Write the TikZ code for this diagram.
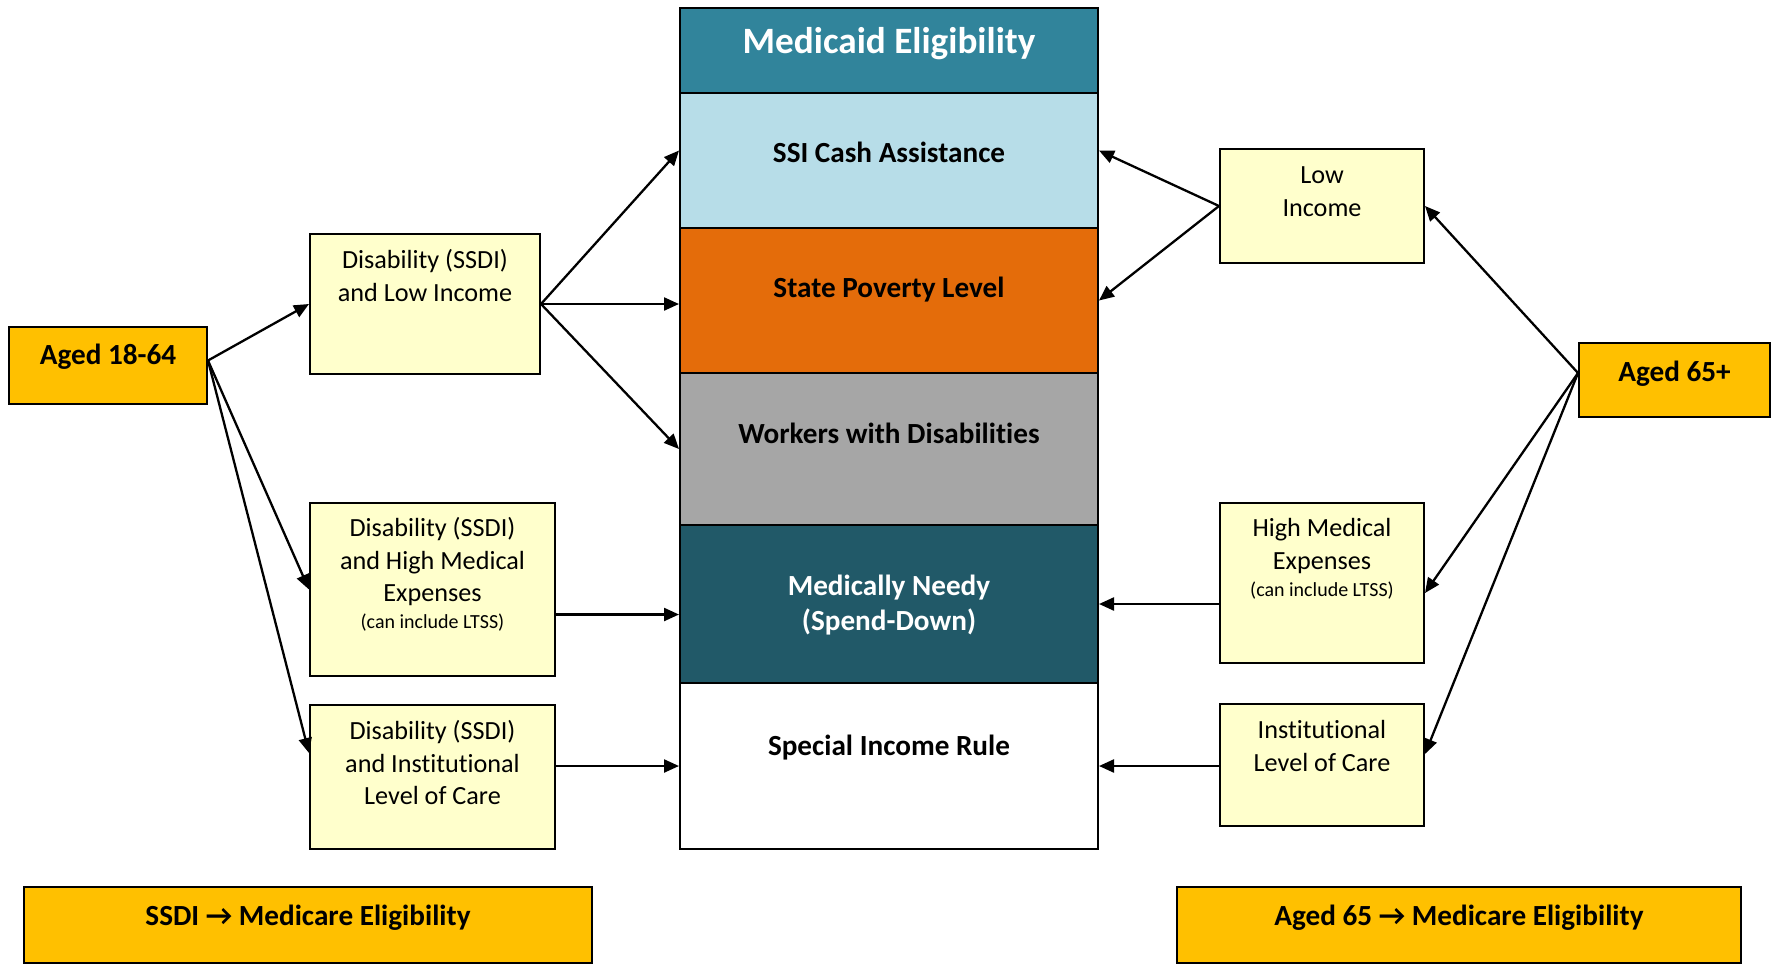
\documentclass[tikz,border=0pt]{standalone}
\usepackage{fontspec}
\setmainfont{Carlito}[Ligatures=NoCommon]
\usetikzlibrary{arrows.meta}

\definecolor{headteal}{HTML}{31849B}
\definecolor{ssiblue}{HTML}{B7DDE8}
\definecolor{povorange}{HTML}{E46C0A}
\definecolor{workgray}{HTML}{A6A6A6}
\definecolor{needteal}{HTML}{215968}
\definecolor{crityellow}{HTML}{FFFFCC}
\definecolor{agegold}{HTML}{FFC000}

% box of fixed size, text hung from the top edge
\newcommand{\boxtxt}[4]{\parbox[c][#2][t]{#1}{\centering\vspace*{#3}\strut#4}}
\newcommand{\txtfont}{\fontsize{13.1}{16.25}\selectfont}
\newcommand{\smfont}{\fontsize{10}{12}\selectfont}
\newcommand{\lblfont}{\fontsize{14.6}{17.5}\selectfont\bfseries}
\newcommand{\headfont}{\fontsize{18.6}{22.5}\selectfont\bfseries}

\begin{document}
\begin{tikzpicture}[x=0.5pt, y=-0.5pt,
  tier/.style={draw, line width=1pt, inner sep=0pt, font=\lblfont},
  crit/.style={draw, fill=crityellow, line width=1pt, inner sep=0pt, font=\txtfont},
  agebox/.style={draw, fill=agegold, line width=1pt, inner sep=0pt, font=\lblfont},
  arr/.style={-{Triangle[length=7.5pt,width=6.5pt]}, line width=1.15pt}]
\useasboundingbox (0,0) rectangle (1773,966);

% eligibility groups, top to bottom
\node[tier, fill=headteal, text=white, font=\headfont] (head) at (889,50.5)
  {\boxtxt{209pt}{42.5pt}{7pt}{Medicaid Eligibility}};
\node[tier, fill=ssiblue] (ssi) at (889,160.5)
  {\boxtxt{209pt}{67.5pt}{22.5pt}{SSI Cash Assistance}};
\node[tier, fill=povorange] (spl) at (889,300.5)
  {\boxtxt{209pt}{72.5pt}{22.5pt}{State Poverty Level}};
\node[tier, fill=workgray] (work) at (889,449)
  {\boxtxt{209pt}{76pt}{23pt}{Workers with Disabilities}};
\node[tier, fill=needteal, text=white] (mneed) at (889,604)
  {\boxtxt{209pt}{79pt}{23pt}{Medically Needy\\(Spend-Down)}};
\node[tier, fill=white] (sir) at (889,766)
  {\boxtxt{209pt}{83pt}{24pt}{Special Income Rule}};

% under 65
\node[agebox] (age1) at (108,365.5) {\boxtxt{99pt}{38.5pt}{6.25pt}{Aged 18-64}};
\node[crit] (dlow) at (425,304)
  {\boxtxt{115pt}{70pt}{6pt}{Disability (SSDI)\\and Low Income}};
\node[crit] (dhigh) at (432.5,589.5)
  {\boxtxt{122.5pt}{86.5pt}{5.5pt}{Disability (SSDI)\\and High Medical\\Expenses\\[-3pt]{\smfont(can include LTSS)}}};
\node[crit] (dinst) at (432.5,777)
  {\boxtxt{122.5pt}{72pt}{6pt}{Disability (SSDI)\\and Institutional\\Level of Care}};

% 65 and over
\node[agebox] (age2) at (1674.5,380) {\boxtxt{95.5pt}{37pt}{6.75pt}{Aged 65+}};
\node[crit] (lowinc) at (1322,206) {\boxtxt{102pt}{57pt}{6pt}{Low\\Income}};
\node[crit] (hmed) at (1322,583)
  {\boxtxt{102pt}{80pt}{5.5pt}{High Medical\\Expenses\\[-2.5pt]{\smfont(can include LTSS)}}};
\node[crit] (inst) at (1322,765) {\boxtxt{102pt}{61pt}{6pt}{Institutional\\Level of Care}};

% Medicare
\node[agebox] (ssdi) at (308,925) {\boxtxt{284pt}{38pt}{6.75pt}{SSDI → Medicare Eligibility}};
\node[agebox] (a65m) at (1459,925) {\boxtxt{282pt}{38pt}{6.75pt}{Aged 65 → Medicare Eligibility}};

\coordinate (a1) at ([yshift=2.5pt]age1.east);
\coordinate (a2) at ([yshift=3.5pt]age2.west);
\coordinate (dh) at ([yshift=-12.5pt]dhigh.east);

\draw[arr] (a1) -- (dlow.west);
\draw[arr] (a1) -- (dhigh.west);
\draw[arr] (a1) -- ([yshift=12pt]dinst.west);
\draw[arr] (dlow.east) -- ([yshift=5pt]ssi.west);
\draw[arr] (dlow.east) -- (dlow.east -| spl.west);
\draw[arr] (dlow.east) -- (work.west);
\draw[arr] (dh) -- (dh -| mneed.west);
\draw[arr] (dinst.east |- sir.west) -- (sir.west);

\draw[arr] (lowinc.west) -- ([yshift=5pt]ssi.east);
\draw[arr] (lowinc.west) -- (spl.east);
\draw[arr] (a2) -- (lowinc.east);
\draw[arr] (a2) -- ([yshift=-5pt]hmed.east);
\draw[arr] (a2) -- ([yshift=5.5pt]inst.east);
\draw[arr] (mneed.east -| hmed.west) -- (mneed.east);
\draw[arr] (sir.east -| inst.west) -- (sir.east);
\end{tikzpicture}
\end{document}
